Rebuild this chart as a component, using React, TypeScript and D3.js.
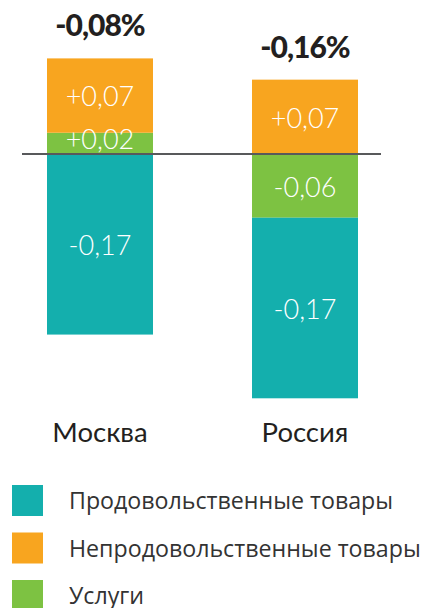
import * as d3 from "d3";

const categories = ["Москва", "Россия"];
const food = [-0.17, -0.17];
const nonFood = [0.07, 0.07];
const services = [0.02, -0.06];

const seriesKeys = ["services", "nonFood", "food"];
const legendNames = ["Продовольственные товары", "Непродовольственные товары", "Услуги"];
const legendKeys = ["food", "nonFood", "services"];

const colors: Record<string, string> = {
  food: "#14afad",
  nonFood: "#f8a51f",
  services: "#7dc242",
};

const width = 426;
const height = 608;

const locale = d3.formatLocale({
  decimal: ",",
  thousands: " ",
  grouping: [3],
  currency: ["", ""],
  minus: "-",
});
const fmtSigned = locale.format("+.2f");
const fmtTotal = locale.format(".2f");

const App = () => {
  const rows = categories.map((c, i) => ({
    category: c,
    food: food[i],
    nonFood: nonFood[i],
    services: services[i],
  }));

  const stacked = d3
    .stack<any>()
    .keys(seriesKeys)
    .offset(d3.stackOffsetDiverging)(rows);

  const x = d3.scaleBand().domain(categories).range([47, 358]).paddingInner(0.483);
  const y = d3.scaleLinear().domain([-0.23, 0.09]).range([398.3, 58.4]);

  const totals = rows.map((r) => r.food + r.nonFood + r.services);
  const tops = categories.map((_, i) => d3.max(stacked, (s) => s[i][1]) as number);

  return (
    <svg
      width={width}
      height={height}
      style={{ position: "absolute", left: 0, top: 0 }}
      fontFamily="Lato"
    >
      {stacked.map((s) => (
        <g key={s.key}>
          {s.map((d, i) => (
            <rect
              key={categories[i]}
              x={x(categories[i])}
              y={y(d[1])}
              width={x.bandwidth()}
              height={y(d[0]) - y(d[1])}
              fill={colors[s.key]}
            />
          ))}
        </g>
      ))}
      {stacked.map((s) => (
        <g key={s.key + "-lbl"}>
          {s.map((d, i) => (
            <text
              key={categories[i]}
              x={(x(categories[i]) as number) + x.bandwidth() / 2}
              y={(y(d[0]) + y(d[1])) / 2}
              dy={s.key === "services" && d[1] - d[0] < 0.03 ? "0.2em" : "0.4em"}
              textAnchor="middle"
              fill="#fff"
              fontSize={27}
              fontWeight={300}
            >
              {fmtSigned((rows[i] as any)[s.key])}
            </text>
          ))}
        </g>
      ))}
      <line x1={22} x2={381} y1={y(0)} y2={y(0)} stroke="#58595b" strokeWidth={2} />
      {categories.map((c, i) => (
        <text
          key={c + "-total"}
          x={(x(c) as number) + x.bandwidth() / 2}
          y={y(tops[i]) - 22}
          textAnchor="middle"
          fontSize={30}
          fontWeight={900}
          fill="#231f20"
          letterSpacing={-1}
        >
          {fmtTotal(totals[i])}%
        </text>
      ))}
      {categories.map((c) => (
        <text
          key={c}
          x={(x(c) as number) + x.bandwidth() / 2}
          y={442}
          textAnchor="middle"
          fontSize={27.5}
          fill="#231f20"
        >
          {c}
        </text>
      ))}
      {legendKeys.map((k, i) => (
        <g key={k} transform={`translate(12,${485 + i * 47.5})`}>
          <rect width={31} height={31} fill={colors[k]} />
          <text x={57} y={24} fontFamily="Open Sans" fontSize={23.2} fill="#333">
            {legendNames[i]}
          </text>
        </g>
      ))}
    </svg>
  );
};

export default App;
